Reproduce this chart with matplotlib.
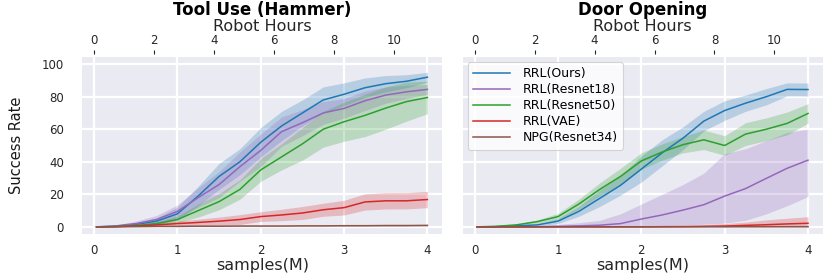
import numpy as np
import matplotlib
matplotlib.use("Agg")
import matplotlib.pyplot as plt

# ---------------- data ----------------
samples = [0.03, 0.25, 0.5, 0.75, 1.0, 1.25, 1.5, 1.75, 2.0, 2.25, 2.5, 2.75, 3.0, 3.25, 3.5, 3.75, 4.0]

labels = ["RRL(Ours)", "RRL(Resnet18)", "RRL(Resnet50)", "RRL(VAE)", "NPG(Resnet34)"]
colors = ["#1f77b4", "#9467bd", "#2ca02c", "#d62728", "#8c564b"]

# Tool Use (Hammer)
hammer_ours = [0, 0.3, 1.5, 3.5, 8, 19, 31, 40, 52, 62, 70, 78, 81.5, 85.5, 88, 89.5, 92]
hammer_ours_err = [0, 0.3, 1, 2, 4, 6, 8, 8, 9, 9, 8, 8, 7, 6, 5, 4, 3]
hammer_r18 = [0, 0.5, 2, 4.5, 9.5, 18, 26, 37, 47, 58.5, 64, 70, 72.8, 77.5, 81, 83, 84.5]
hammer_r18_err = [0, 0.5, 1.5, 2.5, 4, 6, 8, 9, 10, 9, 8, 7, 6, 6, 5, 4, 3]
hammer_r50 = [0, 0.2, 0.8, 2, 4.5, 10, 15.5, 23, 35, 43, 51, 60, 64.6, 68.5, 73, 77, 79.5]
hammer_r50_err = [0, 0.2, 0.6, 1.2, 2, 4, 5, 6, 7, 8, 10, 11, 12, 13, 13, 12, 10]
hammer_vae = [0, 0.1, 0.5, 1.2, 2, 2.7, 3.5, 4.5, 6.3, 7.3, 8.5, 10.5, 11.8, 15.3, 16, 16, 16.8]
hammer_vae_err = [0, 0.1, 0.5, 1, 1.5, 2, 2.5, 3, 3, 3.5, 4, 4, 4.5, 5, 5, 5, 5]
hammer_npg = [0, 0.1, 0.2, 0.3, 0.3, 0.4, 0.4, 0.5, 0.5, 0.5, 0.6, 0.6, 0.7, 0.7, 0.8, 0.8, 0.9]
hammer_npg_err = [0, 0.1, 0.2, 0.2, 0.3, 0.3, 0.3, 0.4, 0.4, 0.4, 0.5, 0.5, 0.5, 0.5, 0.6, 0.6, 0.6]

# Door Opening
door_ours = [0, 0.1, 0.6, 1.2, 3.5, 9.5, 17.5, 25.5, 35.5, 45.5, 54.5, 65, 71.5, 76, 80, 84.5, 84.4]
door_ours_err = [0, 0.1, 0.3, 0.5, 1.5, 3, 5, 6, 8, 8, 7, 6, 6, 5, 5, 4, 4]
door_r18 = [0, 0, 0, 0.1, 0.3, 0.6, 1.0, 2.0, 4.8, 7.3, 10.3, 13.6, 18.9, 23.5, 29.8, 36, 41]
door_r18_lo = [0, 0, 0, 0, 0, 0, 0, 0, 0.3, 0.8, 1.2, 1.6, 2.3, 4, 8, 13, 18.6]
door_r18_hi = [0, 0, 0.3, 0.8, 1.5, 2.5, 4, 8, 14, 20, 26, 33, 45, 48, 53, 58, 60]
door_r50 = [0, 0.3, 1.2, 3.2, 6.3, 14, 23, 31, 40.5, 46, 50.5, 53.5, 50, 57, 60, 63.6, 69.7]
door_r50_err = [0, 0.2, 0.6, 1, 2, 3, 4, 5, 5, 5, 5, 6, 6, 7, 7, 7, 6]
door_vae = [0, 0, 0, 0, 0, 0, 0, 0, 0, 0.1, 0.2, 0.3, 0.5, 0.9, 1.3, 1.8, 2.2]
door_vae_err = [0, 0, 0, 0, 0, 0, 0, 0, 0.1, 0.3, 0.5, 1, 1.5, 2, 3, 3.5, 4]
door_npg = [0, 0, 0, 0, 0, 0, 0, 0, 0, 0, 0, 0.05, 0.05, 0.1, 0.1, 0.1, 0.1]
door_npg_err = [0, 0, 0, 0, 0, 0, 0, 0, 0, 0, 0, 0.1, 0.1, 0.1, 0.1, 0.1, 0.1]

hours_ticks = [0, 2, 4, 6, 8, 10]
y_ticks = [0, 20, 40, 60, 80, 100]
x_ticks = [0, 1, 2, 3, 4]
HOURS_PER_MSAMPLE = 2.78

# ---------------- style ----------------
plt.rcParams["font.family"] = ["DejaVu Sans"]

fig, axes = plt.subplots(1, 2, figsize=(8.3, 2.77), dpi=100, sharey=True)
fig.subplots_adjust(left=82 / 830, right=823 / 830, top=1 - 57 / 277, bottom=1 - 234 / 277,
                    wspace=0.056)

def band(ax, x, m, lo, hi, c, lbl):
    x = np.asarray(x); m = np.asarray(m, float)
    ax.fill_between(x, lo, hi, color=c, alpha=0.25, linewidth=0)
    ax.plot(x, m, color=c, lw=1.1, label=lbl)

hammer = [(hammer_ours, hammer_ours_err), (hammer_r18, hammer_r18_err), (hammer_r50, hammer_r50_err),
          (hammer_vae, hammer_vae_err), (hammer_npg, hammer_npg_err)]
door = [(door_ours, door_ours_err), (door_r18, None), (door_r50, door_r50_err),
        (door_vae, door_vae_err), (door_npg, door_npg_err)]

titles = ["Tool Use (Hammer)", "Door Opening"]
xlim = (-0.145, 4.18)

for ai, (ax, series) in enumerate(zip(axes, [hammer, door])):
    ax.set_facecolor("#EAEAF2")
    for s in ax.spines.values():
        s.set_visible(False)
    ax.grid(True, color="white", lw=1.6)
    ax.set_axisbelow(True)
    for (m, e), c, lbl in zip(series, colors, labels):
        m = np.asarray(m, float)
        if e is None:
            lo, hi = np.asarray(door_r18_lo), np.asarray(door_r18_hi)
        else:
            e = np.asarray(e, float)
            lo, hi = np.clip(m - e, 0, None), m + e
        band(ax, samples, m, lo, hi, c, lbl)
    ax.set_xlim(*xlim)
    ax.set_ylim(-4.4, 104.4)
    ax.set_xticks(x_ticks)
    ax.set_yticks(y_ticks)
    ax.tick_params(axis="both", length=0, labelsize=8.5, labelcolor="0.15")
    ax.tick_params(axis="x", pad=7)
    ax.tick_params(axis="y", pad=13)
    ax.set_xlabel("samples(M)", fontsize=11.5, color="0.15", labelpad=1)

    ax2 = ax.twiny()
    for s in ax2.spines.values():
        s.set_visible(False)
    ax2.spines["top"].set_position(("outward", 2.5))
    ax2.set_xlim(xlim[0] * HOURS_PER_MSAMPLE, xlim[1] * HOURS_PER_MSAMPLE)
    ax2.set_xticks(hours_ticks)
    ax2.grid(False)
    ax2.tick_params(axis="x", top=True, length=3, width=0.8, color="0.15",
                    labelsize=8.5, labelcolor="0.15", pad=2)
    ax2.set_xlabel("Robot Hours", fontsize=11.5, color="0.15", labelpad=2)
    ax2.set_title(titles[ai], fontsize=12, fontweight="bold", pad=2)

axes[0].set_ylabel("Success Rate", fontsize=10.5, color="0.1", labelpad=13)
axes[1].tick_params(axis="y", labelleft=False)

leg = axes[1].legend(loc="upper left", fontsize=9, frameon=True, facecolor="white", framealpha=0.8,
                     edgecolor="0.8", handlelength=3.0, handletextpad=1.0, labelspacing=0.25,
                     borderaxespad=0.4)
leg.get_frame().set_linewidth(0.8)

fig.savefig("out.png", dpi=100)
